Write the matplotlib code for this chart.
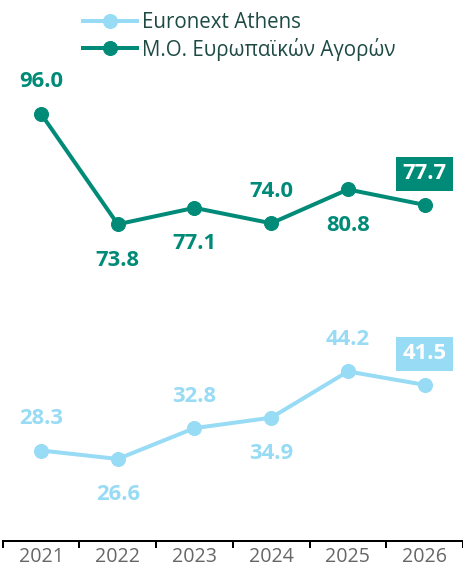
import matplotlib.pyplot as plt
import numpy as np

years = ["2021", "2022", "2023", "2024", "2025", "2026"]
athens = [28.3, 26.6, 32.8, 34.9, 44.2, 41.5]
europe = [96.0, 73.8, 77.1, 74.0, 80.8, 77.7]
names = ["Euronext Athens", "Μ.Ο. Ευρωπαϊκών Αγορών"]

# label placement: +1 above, -1 below
athens_pos = [1, -1, 1, -1, 1, 1]
europe_pos = [1, -1, -1, 1, -1, 1]

light = "#97dbf5"
teal = "#008b78"

plt.rcParams['font.family'] = ['Open Sans', 'DejaVu Sans']

fig = plt.figure(figsize=(463 / 72, 572 / 72), dpi=72)
ax = fig.add_axes([2.7 / 463, 31 / 572, 1 - 2.7 / 463, 1 - 31 / 572])

x = np.arange(len(years))
ax.plot(x, athens, color=light, lw=4, marker="o", ms=14, label=names[0])
ax.plot(x, europe, color=teal, lw=4, marker="o", ms=14, label=names[1])

def put_labels(vals, pos, col):
    for i, (v, p) in enumerate(zip(vals, pos)):
        if i == len(vals) - 1:
            ax.annotate(f"{v:.1f}", (i, v), xytext=(0, 31), textcoords="offset points",
                        ha="center", va="center", fontsize=22, fontweight="bold",
                        color="white",
                        bbox=dict(boxstyle="square,pad=0.3", fc=col, ec="none"))
        else:
            off = 32 if p > 0 else -36
            ax.annotate(f"{v:.1f}", (i, v), xytext=(0, off), textcoords="offset points",
                        ha="center", va="center", fontsize=22, fontweight="bold",
                        color=col)

put_labels(athens, athens_pos, light)
put_labels(europe, europe_pos, teal)

ax.set_xlim(-0.5, 5.455)
ax.set_ylim(10.1, 118.9)
ax.set_yticks([])
for s in ["left", "right", "top"]:
    ax.spines[s].set_visible(False)
ax.spines["bottom"].set_linewidth(2)
ax.set_xticks(x)
ax.set_xticklabels(years)
ax.set_xticks(np.arange(-0.5, 6, 1), minor=True)
ax.tick_params(axis="x", which="major", length=0, labelsize=19.5, labelcolor="#666666", pad=6)
ax.tick_params(axis="x", which="minor", length=7, width=2, direction="out")

leg = ax.legend(loc="upper left", bbox_to_anchor=(83 / 463, 1 - 12 / 572),
                bbox_transform=fig.transFigure, frameon=False, fontsize=20.5,
                handlelength=2.65, handletextpad=0.22, labelspacing=0.22,
                borderpad=0, borderaxespad=0)
for t in leg.get_texts():
    t.set_color("#1e4a44")

fig.savefig("out.png", dpi=72)
